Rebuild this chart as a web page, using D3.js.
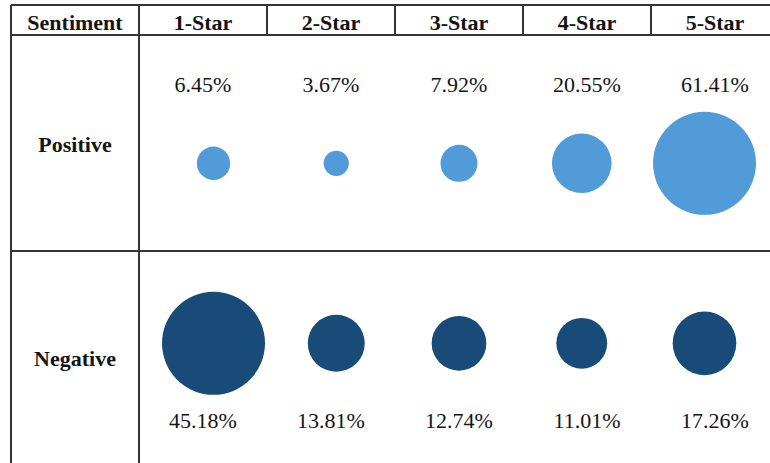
<!DOCTYPE html>
<html>
<head>
<meta charset="utf-8">
<script src="https://cdn.jsdelivr.net/npm/d3@7/dist/d3.min.js"></script>
<style>
  html, body { margin: 0; padding: 0; background: #fff; }
  svg { display: block; }
  text { font-family: "Liberation Serif", "Times New Roman", serif; fill: #141414; }
</style>
</head>
<body>
<svg id="chart" width="770" height="463"></svg>
<script>
// Star-rating categories and the share of reviews in each, per sentiment
const categories = ["1-Star", "2-Star", "3-Star", "4-Star", "5-Star"];
const positiveValues = [6.45, 3.67, 7.92, 20.55, 61.41];
const negativeValues = [45.18, 13.81, 12.74, 11.01, 17.26];
const headerLabel = "Sentiment";
const rowLabels = ["Positive", "Negative"];

const rows = [
  { label: rowLabels[0], values: positiveValues, color: "#519bd8", cy: 163.3, valueY: 91.7, labelY: 151.7, top: 35 },
  { label: rowLabels[1], values: negativeValues, color: "#184b78", cy: 343.3, valueY: 428, labelY: 366, top: 251 }
];

const svg = d3.select("#chart");
const lineColor = "#353535";

const tableLeft = 11, firstColRight = 139, tableRight = 779;
const headerTop = 5, headerBottom = 35, tableBottom = 470;

// Columns of the table (one per category)
const colX = d3.scaleBand().domain(categories).range([firstColRight, tableRight]);
// Bubble centres
const bubbleX = d3.scalePoint().domain(categories).range([213.5, 704.5]);

const grid = svg.append("g").attr("stroke", lineColor).attr("stroke-width", 2).attr("fill", "none");

// Outer/left borders and header lines
grid.append("line").attr("x1", tableLeft).attr("x2", tableRight).attr("y1", headerTop).attr("y2", headerTop);
grid.append("line").attr("x1", tableLeft).attr("x2", tableRight).attr("y1", headerBottom).attr("y2", headerBottom);
grid.append("line").attr("x1", tableLeft).attr("x2", tableLeft).attr("y1", headerTop).attr("y2", tableBottom);
grid.append("line").attr("x1", firstColRight).attr("x2", firstColRight).attr("y1", headerTop).attr("y2", tableBottom);
grid.append("line").attr("x1", tableRight).attr("x2", tableRight).attr("y1", headerTop).attr("y2", tableBottom);
// Header column separators
grid.selectAll("line.sep")
  .data(categories.slice(1))
  .join("line")
  .attr("class", "sep")
  .attr("x1", d => colX(d)).attr("x2", d => colX(d))
  .attr("y1", headerTop).attr("y2", headerBottom);
// Row divider
grid.append("line").attr("x1", tableLeft).attr("x2", tableRight).attr("y1", rows[1].top).attr("y2", rows[1].top);

// Header text
const header = svg.append("g").attr("font-size", 22).attr("font-weight", "bold").attr("text-anchor", "middle");
header.append("text").attr("x", (tableLeft + firstColRight) / 2).attr("y", 29.5).text(headerLabel);
header.selectAll("text.cat")
  .data(categories)
  .join("text")
  .attr("class", "cat")
  .attr("x", d => colX(d) + colX.bandwidth() / 2)
  .attr("y", 29.5)
  .text(d => d);

// Body rows
rows.forEach(row => {
  const r = d3.scaleSqrt().domain([0, d3.max(row.values)]).range([0, 51.5]);
  const g = svg.append("g");

  g.append("text")
    .attr("x", (tableLeft + firstColRight) / 2)
    .attr("y", row.labelY)
    .attr("text-anchor", "middle")
    .attr("font-size", 22)
    .attr("font-weight", "bold")
    .text(row.label);

  g.selectAll("circle")
    .data(categories)
    .join("circle")
    .attr("cx", d => bubbleX(d))
    .attr("cy", row.cy)
    .attr("r", (d, i) => r(row.values[i]))
    .attr("fill", row.color);

  g.selectAll("text.val")
    .data(categories)
    .join("text")
    .attr("class", "val")
    .attr("x", d => colX(d) + colX.bandwidth() / 2)
    .attr("y", row.valueY)
    .attr("text-anchor", "middle")
    .attr("font-size", 22)
    .text((d, i) => row.values[i].toFixed(2) + "%");
});
</script>
</body>
</html>
